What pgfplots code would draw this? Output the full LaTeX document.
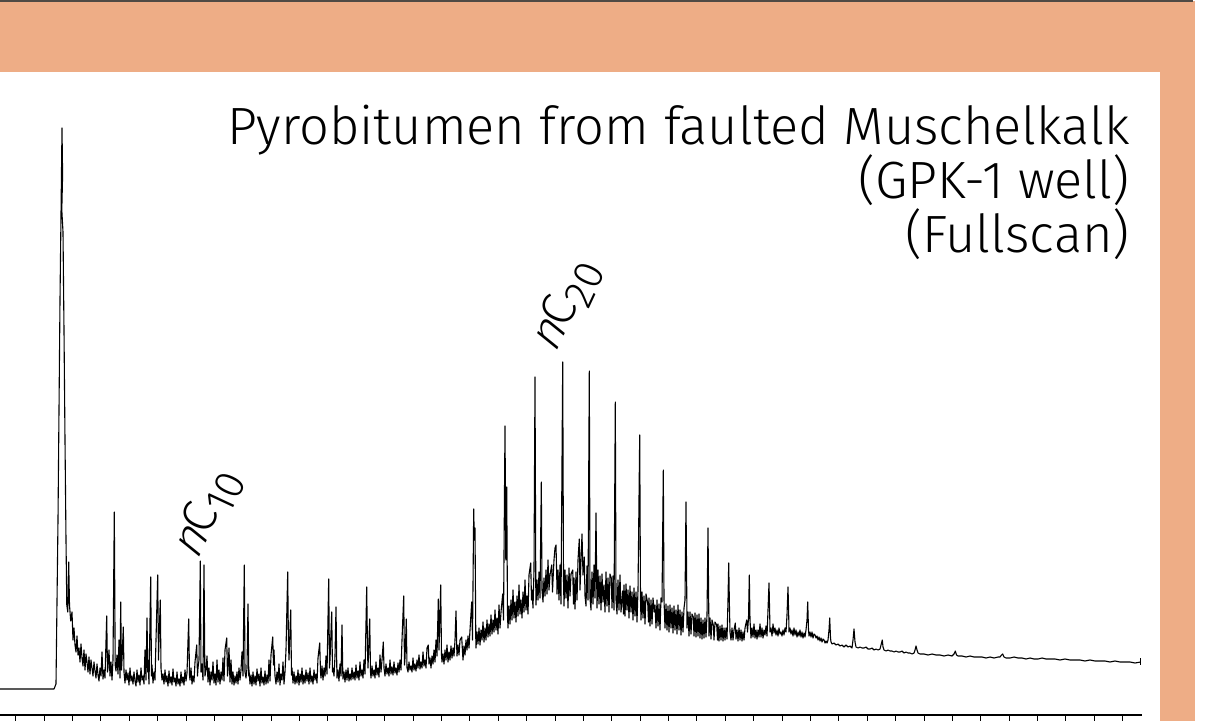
\documentclass[border=0pt]{standalone}
\usepackage{pgfplots}
\usepackage{pgfplotstable}
\pgfplotsset{compat=1.18}
\usepackage{fontspec}
\setmainfont{Fira Sans Light}
\newfontfamily\slfont{Fira Sans Light}[FakeSlant=0.25]
\definecolor{bgorange}{HTML}{EEAD86}
\definecolor{topline}{HTML}{4F4A45}
\newcommand{\alk}[1]{{\slfont n}C\raisebox{-0.22em}{\fontsize{21}{22}\selectfont #1}}
% chromatogram trace: px = retention position, py = signal (pixel row, 715 = zero line)
\pgfplotstableread[row sep=\\]{
px py\\
0 689\\ 54 689\\ 56 684\\ 58 520\\ 60 300\\ 61 215\\ 62 128\\ 62.6 175\\ 61.8 210\\ 63 232\\
64 330\\ 65 440\\ 66 540\\ 66.8 605\\ 67.8 612\\ 68.7 562\\ 69.5 605\\ 70.7 621\\ 72 612\\ 73 640\\
74 628\\ 75 645\\ 76 652\\ 77 636\\ 78 655\\ 79 648\\ 80 662\\ 81 644\\ 82 658\\ 83 666\\
84 650\\ 85 670\\ 86 654\\ 87 662\\ 88 672\\ 89 657\\ 90 674\\ 91 660\\ 92 668\\ 93 676\\
94 662\\ 95 671\\ 96 678\\ 97 664\\ 98 675\\ 99 681\\ 100 668\\ 101 676\\ 102 652\\ 103 679\\
104 670\\ 105 678\\ 106.7 616\\ 107.5 672\\ 108 668\\ 109 650\\ 110 676\\ 111 662\\ 112 680\\ 113 660\\
114.3 512\\ 115.2 665\\ 116 671\\ 117 655\\ 118 674\\ 119 640\\ 120 678\\ 120.7 602\\ 121.5 670\\ 122 660\\
123.3 627\\ 124 672\\ 125 683\\ 126 670\\ 127 680\\ 128 673\\ 129 685\\ 130 668\\ 131 681\\ 132 676\\
133 684\\ 134 672\\ 135 681\\ 136 686\\ 137 670\\ 138 682\\ 139 675\\ 140 685\\ 141 668\\ 142 680\\
143 676\\ 144 684\\ 145 650\\ 146 680\\ 147 618\\ 147.8 672\\ 148 660\\ 149 684\\ 150.7 577\\ 151.5 676\\
152 665\\ 153 683\\ 154 672\\ 155 680\\ 156 640\\ 157.7 575\\ 158.5 660\\ 159 640\\ 160.3 600\\ 161 668\\
162 680\\ 163 674\\ 164 684\\ 165 670\\ 166 682\\ 167 676\\ 168 686\\ 169 671\\ 170 683\\ 171 677\\
172 685\\ 173 669\\ 174 682\\ 175 678\\ 176 686\\ 177 672\\ 178 684\\ 179 679\\ 180 686\\ 181 672\\
182 683\\ 183 677\\ 184 685\\ 185 670\\ 186 681\\ 187 673\\ 188.7 619\\ 189.5 675\\ 190 680\\ 191 668\\
192 684\\ 193 676\\ 194 682\\ 195 662\\ 196.7 645\\ 197.5 676\\ 198 668\\ 199 660\\ 200.3 561\\ 201 672\\
202 664\\ 203 680\\ 204 565\\ 204.8 668\\ 205 676\\ 206 670\\ 207 656\\ 208 682\\ 209 668\\ 210 685\\
211 672\\ 212 680\\ 213 662\\ 214 683\\ 215 674\\ 216 685\\ 217 660\\ 218 682\\ 219 670\\ 220 684\\
221 672\\ 222 680\\ 223 658\\ 224 681\\ 225 650\\ 226.7 638\\ 227.5 676\\ 228 670\\ 229 648\\ 230 682\\
231 660\\ 232 684\\ 233 672\\ 234 685\\ 235 676\\ 236 683\\ 237 672\\ 238 684\\ 239 668\\ 240 680\\
241 670\\ 242 652\\ 243 676\\ 244.3 565\\ 245 672\\ 246 678\\ 247 668\\ 248 604\\ 248.8 676\\ 249 670\\
250 684\\ 251 675\\ 252 686\\ 253 672\\ 254 684\\ 255 676\\ 256 685\\ 257 669\\ 258 681\\ 259 674\\
260 686\\ 261 668\\ 262 683\\ 263 677\\ 264 685\\ 265 671\\ 266 684\\ 267 675\\ 268 683\\ 269 660\\
270 681\\ 271 655\\ 272.7 637\\ 273.5 665\\ 274 650\\ 275 676\\ 276 684\\ 277 672\\ 278 682\\ 279 664\\
280 685\\ 281 674\\ 282 680\\ 283 662\\ 284 684\\ 285 672\\ 286 650\\ 287.7 572\\ 288.4 640\\ 289 660\\
290.7 610\\ 291.5 675\\ 292 668\\ 293 683\\ 294 672\\ 295 684\\ 296 676\\ 297 683\\ 298 670\\ 299 685\\
300 674\\ 301 682\\ 302 668\\ 303 684\\ 304 675\\ 305 683\\ 306 670\\ 307 681\\ 308 673\\ 309 684\\
310 668\\ 311 682\\ 312 676\\ 313 684\\ 314 670\\ 315 680\\ 316 674\\ 317 683\\ 318 658\\ 319.7 643\\
320.5 672\\ 321 678\\ 322 666\\ 323 680\\ 324 668\\ 325 676\\ 326 656\\ 327 674\\ 328.7 579\\ 329.5 668\\
330 660\\ 331.7 612\\ 332.5 672\\ 333 668\\ 334 676\\ 335 656\\ 336 607\\ 336.8 668\\ 337 678\\ 338 670\\
339 681\\ 340 664\\ 341 676\\ 342 625\\ 342.8 674\\ 343 679\\ 344 672\\ 345 682\\ 346 670\\ 347 680\\
348 668\\ 349 681\\ 350 674\\ 351 680\\ 352 668\\ 353 679\\ 354 672\\ 355 680\\ 356 665\\ 357 678\\
358 671\\ 359 680\\ 360 662\\ 361 676\\ 362 670\\ 363 678\\ 364 660\\ 365 674\\ 366.7 587\\ 367.5 650\\
368 668\\ 369.7 619\\ 370.5 672\\ 371 678\\ 372 666\\ 373 676\\ 374 670\\ 375 678\\ 376 662\\ 377 675\\
378 668\\ 379 677\\ 380 655\\ 381 672\\ 382 660\\ 383.3 642\\ 384 668\\ 385 676\\ 386 664\\ 387 674\\
388 668\\ 389 676\\ 390 660\\ 391 674\\ 392 667\\ 393 675\\ 394 662\\ 395 673\\ 396 668\\ 397 675\\
398 663\\ 399 672\\ 400 660\\ 401 670\\ 402 640\\ 403.7 596\\ 404.5 665\\ 405 658\\ 406.3 619\\ 407 668\\
408 672\\ 409 662\\ 410 670\\ 411 666\\ 412 672\\ 413 658\\ 414 670\\ 415 664\\ 416 671\\ 417 660\\
418 668\\ 419 655\\ 420 669\\ 421 662\\ 422 668\\ 423 652\\ 424 666\\ 425 660\\ 426 668\\ 427 648\\
428.3 645\\ 429 664\\ 430 658\\ 431 668\\ 432 656\\ 433 664\\ 434 650\\ 435 662\\ 436 640\\ 437 656\\
438.3 599\\ 439 650\\ 440.7 585\\ 441.5 655\\ 442 662\\ 443 654\\ 444 664\\ 445 650\\ 446 660\\ 447 645\\
448 662\\ 449 652\\ 450 660\\ 451 646\\ 452 658\\ 453 648\\ 454 656\\ 455 640\\ 456 611\\ 456.8 650\\
457 656\\ 458 645\\ 459 655\\ 460 640\\ 461.7 637\\ 462.5 652\\ 463 660\\ 464 646\\ 465 655\\ 466 640\\
467 650\\ 468 636\\ 469 648\\ 470 630\\ 471.7 602\\ 472.5 640\\ 473.7 509\\ 474.3 540\\ 475 528\\ 475.8 640\\
476 648\\ 477 632\\ 478 644\\ 479 628\\ 480 645\\ 481 630\\ 482 640\\ 483 622\\ 484 642\\ 485 628\\
486 640\\ 487 620\\ 488 637\\ 489 624\\ 490 636\\ 491 615\\ 492 634\\ 493 620\\ 494 632\\ 495 610\\
496 630\\ 497 618\\ 498 634\\ 499 605\\ 500 628\\ 501 612\\ 502.7 594\\ 503.5 620\\ 505 426\\ 505.8 560\\
506.7 487\\ 507.5 615\\ 508 628\\ 509 606\\ 510 624\\ 511 600\\ 512 620\\ 513 590\\ 514 618\\ 515 602\\
516 622\\ 517 596\\ 518 616\\ 519 585\\ 520 614\\ 521 600\\ 522 618\\ 523 592\\ 524 612\\ 525 580\\
526 610\\ 527 596\\ 528 614\\ 529 575\\ 530.7 563\\ 531.5 600\\ 532 590\\ 533 608\\ 534 570\\ 535 377\\
535.8 590\\ 536 605\\ 537 580\\ 538 600\\ 539 572\\ 540 598\\ 541.3 482\\ 542 590\\ 543 602\\ 544 578\\
545 596\\ 546 570\\ 547 594\\ 548 560\\ 549 590\\ 550 575\\ 551.7 565\\ 552.5 592\\ 553 580\\ 554 560\\
555 548\\ 556 545\\ 556.8 580\\ 557 594\\ 558 570\\ 559 600\\ 560 565\\ 561 604\\ 562.7 362\\ 563.5 580\\
564 606\\ 565 570\\ 566 598\\ 567 575\\ 568 608\\ 569 568\\ 570 596\\ 571 574\\ 572.7 570\\ 573.5 604\\
574 578\\ 575 609\\ 576 572\\ 577 600\\ 578 560\\ 579.3 539\\ 580 590\\ 581 560\\ 582 534\\ 583 575\\
584.3 557\\ 585 596\\ 586 606\\ 587 566\\ 588 600\\ 589.3 371\\ 590 598\\ 591 610\\ 592 572\\ 593 604\\
594 565\\ 595 598\\ 596 513\\ 596.8 590\\ 597 608\\ 598 570\\ 599 604\\ 600 576\\ 601 610\\ 602 574\\
603 602\\ 604 585\\ 605 612\\ 606 572\\ 607 606\\ 608 578\\ 609 612\\ 610 574\\ 611.3 578\\ 612 608\\
613 576\\ 614 610\\ 615.3 402\\ 616 600\\ 617 614\\ 618 580\\ 619 610\\ 620 575\\ 621 612\\ 622.7 591\\
623.5 614\\ 624 585\\ 625 616\\ 626 584\\ 627 610\\ 628 590\\ 629 618\\ 630 586\\ 631 612\\ 632 592\\
633 620\\ 634 588\\ 635 616\\ 636 592\\ 637 622\\ 638 590\\ 639.7 435\\ 640.5 600\\ 641 620\\ 642 592\\
643 618\\ 644 596\\ 645 624\\ 646 594\\ 647.7 603\\ 648.5 622\\ 649 598\\ 650 626\\ 651 600\\ 652 624\\
653 598\\ 654.3 612\\ 655 605\\ 656 628\\ 657 600\\ 658 626\\ 659 604\\ 660 630\\ 661 598\\ 662 602\\
663.3 470\\ 664 600\\ 665 628\\ 666 604\\ 667 630\\ 668 606\\ 669 632\\ 670 605\\ 671 628\\ 672 608\\
673 633\\ 674 606\\ 675 630\\ 676 610\\ 677 634\\ 678 605\\ 679 630\\ 680 610\\ 681 635\\ 682 612\\
683 632\\ 684 608\\ 685 600\\ 686 502\\ 686.8 600\\ 687 628\\ 688 612\\ 689 636\\ 690 612\\ 691 634\\
692 614\\ 693.3 617\\ 694 636\\ 695 613\\ 696 637\\ 697 615\\ 698 636\\ 699 614\\ 700 638\\ 701 618\\
702 639\\ 703 620\\ 704 638\\ 705 618\\ 706 637\\ 707 615\\ 708 528\\ 708.8 615\\ 709 636\\ 710 618\\
711 639\\ 712 620\\ 713.3 625\\ 714 640\\ 715 622\\ 716.7 625\\ 717.5 640\\ 718 624\\ 719 641\\ 720 626\\
721 640\\ 722 625\\ 723 641\\ 724 628\\ 725 640\\ 726 628\\ 727 639\\ 728 600\\ 728.7 563\\ 729.5 610\\
730 632\\ 731 640\\ 732 628\\ 733 640\\ 734 630\\ 735.3 623\\ 736 639\\ 737 630\\ 738 641\\ 739 628\\
740 640\\ 741 630\\ 742 641\\ 743 632\\ 744 640\\ 745 628\\ 746.7 620\\ 747.5 632\\ 748.5 618\\ 749.3 575\\
750 620\\ 751 638\\ 752 628\\ 753 637\\ 754 624\\ 755 638\\ 756 630\\ 757 639\\ 758 630\\ 759 637\\
760 624\\ 761 637\\ 762 628\\ 763 638\\ 764 630\\ 765 635\\ 766 626\\ 767 636\\ 768 610\\ 769 583\\
769.8 620\\ 770 632\\ 771 628\\ 772 636\\ 773 624\\ 774 633\\ 775 628\\ 776 635\\ 777 630\\ 778 636\\
779 628\\ 780 634\\ 781 632\\ 782 636\\ 783 630\\ 784 635\\ 785 628\\ 786 632\\ 787 615\\ 788 587\\
788.8 620\\ 789 632\\ 790 628\\ 791 634\\ 792 630\\ 793 636\\ 794 628\\ 795 635\\ 796 630\\ 797 637\\
798 632\\ 799 636\\ 800 630\\ 801 637\\ 802 632\\ 803 638\\ 804 633\\ 805 637\\ 806 630\\ 807 620\\
807.7 602\\ 808.5 630\\ 809 636\\ 810 632\\ 811 637\\ 812 632\\ 813 638\\ 814 634\\ 815 635\\ 816 638\\
817 636\\ 818 640\\ 819 637\\ 820 641\\ 821 638\\ 822 642\\ 823 639\\ 824 640\\ 825 643\\ 826 641\\
827 643\\ 828 640\\ 829 630\\ 829.7 618\\ 830.5 638\\ 831 642\\ 832 644\\ 834 643\\ 836 645\\ 838 644\\
840 646\\ 842 645\\ 844 647\\ 846 645\\ 848 647\\ 850 646\\ 852 648\\ 853 640\\ 854 629\\ 855 642\\
856 647\\ 858 648\\ 860 647\\ 862 648\\ 864 648\\ 866 647\\ 868 649\\ 870 649\\ 872 648\\ 874 650\\
876 649\\ 878 650\\ 880 649\\ 881 645\\ 882.3 640\\ 883 647\\ 884 650\\ 886 651\\ 888 650\\ 890 651\\
892 651\\ 894 652\\ 896 651\\ 898 652\\ 900 652\\ 902 651\\ 904 653\\ 906 652\\ 908 653\\ 910 653\\
912 654\\ 914 653\\ 915 650\\ 916 646\\ 917 650\\ 918 653\\ 920 654\\ 924 654\\ 928 655\\ 932 654\\
936 655\\ 940 655\\ 944 656\\ 948 655\\ 952 656\\ 954 654\\ 955.3 651\\ 956.5 655\\ 958 656\\ 962 656\\
966 657\\ 970 656\\ 974 657\\ 978 657\\ 982 657\\ 986 658\\ 990 657\\ 994 658\\ 998 657\\ 1000 657\\
1001.5 655\\ 1002.7 654\\ 1004 657\\ 1006 658\\ 1010 658\\ 1014 657\\ 1018 658\\ 1022 658\\ 1026 659\\ 1030 658\\
1034 659\\ 1038 659\\ 1042 658\\ 1046 659\\ 1050 659\\ 1055 659\\ 1060 660\\ 1065 659\\ 1070 660\\ 1075 660\\
1080 660\\ 1085 661\\ 1090 660\\ 1095 661\\ 1100 661\\ 1105 661\\ 1110 662\\ 1115 661\\ 1120 662\\ 1125 662\\
1130 662\\ 1135 663\\ 1140.7 662\\
}\chrom
\begin{document}
\begin{tikzpicture}
\useasboundingbox (0pt,0pt) rectangle (604.5pt,-360.5pt);
\fill[white] (0pt,0pt) rectangle (604.5pt,-360.5pt);
\fill[bgorange] (0pt,-0.5pt) rectangle (597.5pt,-36pt);
\fill[bgorange] (580pt,-0.5pt) rectangle (597.5pt,-360.5pt);
\fill[topline] (0pt,0pt) rectangle (596.5pt,-0.8pt);
\begin{axis}[
  scale only axis, width=571pt, height=321.5pt,
  at={(0pt,-357.5pt)}, anchor=south west,
  xmin=0, xmax=1142, ymin=0, ymax=643,
  axis x line*=bottom, axis y line=none,
  x axis line style={line width=0.75pt,-},
  xtick={15.7,44.085,...,1123}, xticklabels={}, ytick=\empty,
  tick align=outside, major tick length=3.2pt,
  xtick style={line width=0.5pt,black},
]
\addplot[black, line width=0.55pt, line join=round] table[x=px, y expr={715-\thisrow{py}}] {\chrom};
\addplot[black, line width=0.5pt] coordinates {(1140.7,57) (1140.7,50)};
\end{axis}
\node[anchor=base east, font=\fontsize{26.2}{28}\selectfont, inner sep=0pt] at (565pt,-72.5pt) {Pyrobitumen from faulted Muschelkalk};
\node[anchor=base east, font=\fontsize{26.2}{28}\selectfont, inner sep=0pt] at (565pt,-99.5pt) {(GPK-1 well)};
\node[anchor=base east, font=\fontsize{26.2}{28}\selectfont, inner sep=0pt] at (565pt,-126.5pt) {(Fullscan)};
\node[rotate=65, font=\fontsize{24}{26}\selectfont, inner sep=0pt] at (103.5pt,-257pt) {\alk{10}};
\node[rotate=65, font=\fontsize{24}{26}\selectfont, inner sep=0pt] at (283pt,-153pt) {\alk{20}};
\end{tikzpicture}
\end{document}
